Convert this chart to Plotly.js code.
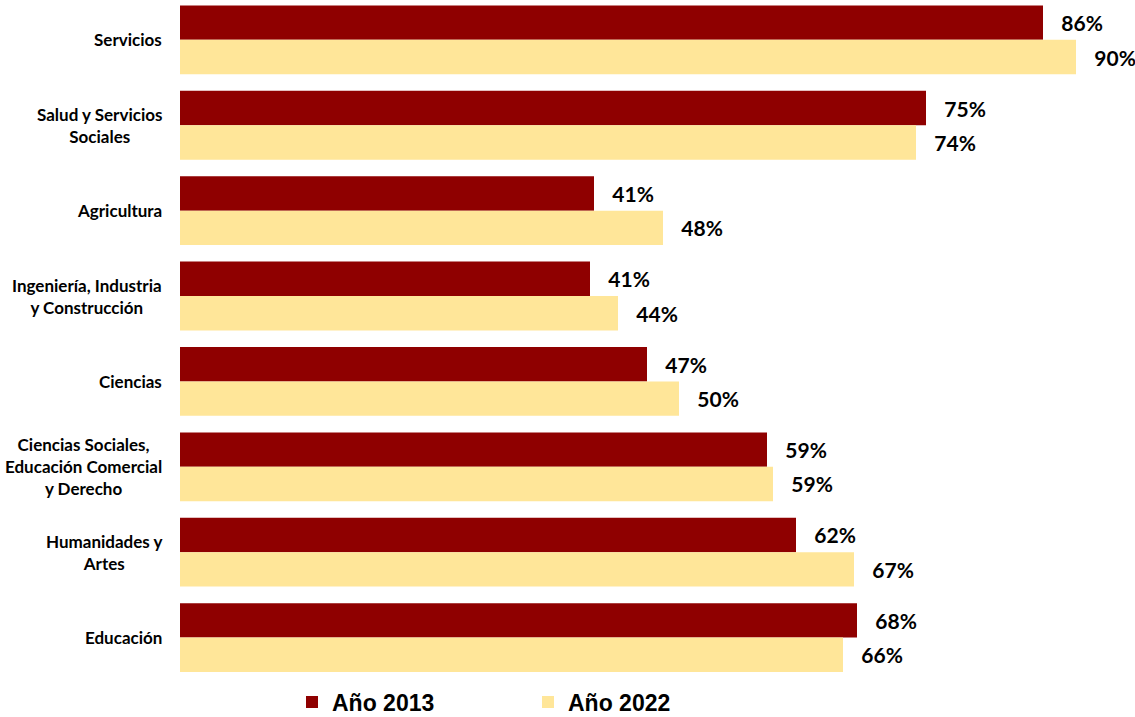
<!DOCTYPE html>
<html>
<head>
<meta charset="utf-8">
<script src="https://cdn.plot.ly/plotly-3.0.1.min.js"></script>
<style>html,body{margin:0;padding:0;background:#fff;}#chart{width:1135px;height:717px;}</style>
</head>
<body>
<div id="chart"></div>
<script>
const categories = [
  "Servicios",
  "Salud y Servicios<br>Sociales",
  "Agricultura",
  "Ingeniería, Industria<br>y Construcción",
  "Ciencias",
  "Ciencias Sociales,<br>Educación Comercial<br>y Derecho",
  "Humanidades y<br>Artes",
  "Educación"
];
const values2013 = [86.3, 74.6, 41.4, 41.0, 46.7, 58.7, 61.6, 67.7];
const values2022 = [89.6, 73.6, 48.3, 43.8, 49.9, 59.3, 67.4, 66.3];
const seriesNames = ["Año 2013", "Año 2022"];
const seriesColors = ["#8f0000", "#ffe699"];

const labelFont = {family: "Lato, 'Open Sans', sans-serif", size: 21, color: "#000", weight: "bold"};
const pad = "\u00a0\u00a0\u00a0";

const traces = [values2013, values2022].map((vals, i) => ({
  type: "bar",
  orientation: "h",
  name: seriesNames[i],
  y: categories,
  x: vals,
  marker: {color: seriesColors[i], line: {width: 0}},
  text: vals.map(v => pad + Math.round(v) + "%"),
  textposition: "outside",
  textfont: labelFont,
  constraintext: "none",
  cliponaxis: false,
  hoverinfo: "skip"
}));

const annotations = categories.map(c => ({
  xref: "paper", yref: "y",
  x: -16/955, y: c,
  xanchor: "right", yanchor: "middle",
  text: c, align: "center", showarrow: false,
  font: {family: "Lato, 'Open Sans', sans-serif", size: 17, color: "#000", weight: "bold"}
}));

const layout = {
  width: 1135, height: 717,
  margin: {l: 180, r: 0, t: 0, b: 35, pad: 0},
  paper_bgcolor: "#fff", plot_bgcolor: "#fff",
  barmode: "group",
  bargap: 0.194,
  bargroupgap: 0,
  xaxis: {range: [0, 95.5], showgrid: false, zeroline: false, showticklabels: false, showline: false, ticks: ""},
  yaxis: {type: "category", categoryorder: "array", categoryarray: categories,
          range: [7.503, -0.467], showticklabels: false, showgrid: false, zeroline: false, showline: false, ticks: ""},
  showlegend: true,
  legend: {
    orientation: "h", xref: "container", yref: "container",
    x: 292/1135, xanchor: "left", y: 15/717, yanchor: "middle",
    entrywidth: 191, entrywidthmode: "pixels", itemwidth: 30,
    font: {family: "'Liberation Sans', Arial, sans-serif", size: 23, color: "#000", weight: "bold"},
    bgcolor: "rgba(0,0,0,0)", traceorder: "normal"
  },
  annotations: annotations
};

Plotly.newPlot("chart", traces, layout, {displayModeBar: false, staticPlot: true});
</script>
</body>
</html>
